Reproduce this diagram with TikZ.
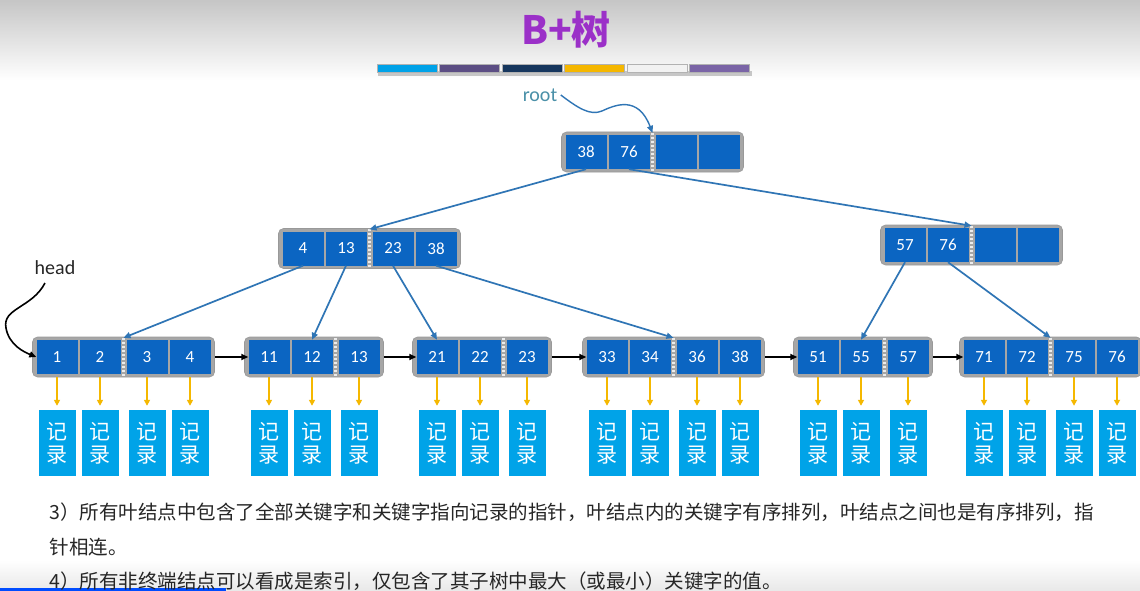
\documentclass[tikz,border=0pt]{standalone}
\usepackage{fontspec}
\setmainfont{Carlito}
\newfontfamily\cjk{Noto Sans CJK SC}
\usepackage{tikz}
\usetikzlibrary{arrows.meta,positioning,calc}

\begin{document}
\begin{tikzpicture}[
    x=1pt, y=-1pt,
    nodeframe/.style={
        draw=gray!80, fill=framegray, rounded corners=5pt, line width=0.6pt,
        minimum height=40pt, inner sep=0pt
    },
    keycell/.style={
        fill=cellblue, minimum width=41pt, minimum height=34pt, inner sep=0pt,
        text=white, font=\fontsize{17}{20}\selectfont
    },
    dotsep/.style={minimum width=0pt, minimum height=38pt, inner sep=0pt},
    dotline/.style={white!85!gray, line width=2.4pt, dash pattern=on 2pt off 2pt},
    recbox/.style={
        fill=recblue, minimum width=37pt, minimum height=66pt, inner sep=0pt,
        text=white, align=center, font=\cjk\fontsize{21}{23}\selectfont
    },
    barseg/.style={draw=gray!60, line width=0.5pt, minimum width=60pt, minimum height=8pt, inner sep=0pt},
    treearr/.style={-{Triangle[length=7pt,width=6pt]}, line width=1.7pt, treeblue},
    linkarr/.style={-{Triangle[length=7pt,width=6pt]}, line width=1.6pt, black},
    recarr/.style={-{Triangle[length=6pt,width=6pt]}, line width=1.6pt, recyellow,
        shorten <=3pt, shorten >=4pt}
]

% Colours
\definecolor{cellblue}{HTML}{0B65C2}
\definecolor{recblue}{HTML}{00A3E8}
\definecolor{treeblue}{HTML}{2F75B5}
\definecolor{recyellow}{HTML}{F5B800}
\definecolor{framegray}{HTML}{A6A6A6}
\definecolor{titlepurple}{HTML}{9B30C8}
\definecolor{rootteal}{HTML}{4A90A8}
\definecolor{textgray}{HTML}{262626}
\definecolor{barA}{HTML}{00A2E8}
\definecolor{barB}{HTML}{5C4E84}
\definecolor{barC}{HTML}{17375E}
\definecolor{barD}{HTML}{F5B700}
\definecolor{barE}{HTML}{F2F2F2}
\definecolor{barF}{HTML}{7A64A6}

\useasboundingbox (0,0) rectangle (1140,591);

% Slide background
\fill[white] (0,0) rectangle (1140,591);
\shade[top color=gray!45, bottom color=white] (0,0) rectangle (1140,80);
\shade[top color=white, bottom color=gray!18] (0,560) rectangle (1140,591);
\fill[blue!70!cyan] (0,588) rectangle (226,591);

% Title and colour bar
\node[font=\cjk\bfseries\fontsize{39}{41}\selectfont, text=titlepurple] (title) at (566,30) {B+树};
\fill[gray!45] (378,71) rectangle (752,76);
\foreach \c [count=\i] in {barA,barB,barC,barD,barE,barF}
    \node[barseg, fill=\c] (seg\i) at ({407+62.5*(\i-1)},68) {};

% Root node
\node[nodeframe, minimum width=182pt] (rootf) at (652.5,152) {};
\node[keycell] (r1) at (586,152) {38};
\node[keycell] (r2) at (629,152) {76};
\node[dotsep] (rsep) at (652.5,152) {};
\node[keycell] (r3) at (676,152) {};
\node[keycell] (r4) at (719,152) {};

% Second level
\node[nodeframe, minimum width=182pt] (af) at (369.5,248.5) {};
\node[keycell] (a1) at (303,248.5) {4};
\node[keycell] (a2) at (346,248.5) {13};
\node[dotsep] (asep) at (369.5,248.5) {};
\node[keycell] (a3) at (393,248.5) {23};
\node[keycell] (a4) at (436,248.5) {38};

\node[nodeframe, minimum width=182pt] (bf) at (971.5,245) {};
\node[keycell] (b1) at (905,245) {57};
\node[keycell] (b2) at (948,245) {76};
\node[dotsep] (bsep) at (971.5,245) {};
\node[keycell] (b3) at (995,245) {};
\node[keycell] (b4) at (1038,245) {};

% Leaf level
\node[nodeframe, minimum width=182pt] (f1) at (123.5,357) {};
\node[keycell] (k1) at (57,357) {1};
\node[keycell] (k2) at (100,357) {2};
\node[dotsep] (s1) at (123.5,357) {};
\node[keycell] (k3) at (147,357) {3};
\node[keycell] (k4) at (190,357) {4};

\node[nodeframe, minimum width=139pt] (f2) at (314,357) {};
\node[keycell] (k11) at (269,357) {11};
\node[keycell] (k12) at (312,357) {12};
\node[dotsep] (s2) at (335.5,357) {};
\node[keycell] (k13) at (359,357) {13};

\node[nodeframe, minimum width=139pt] (f3) at (482,357) {};
\node[keycell] (k21) at (437,357) {21};
\node[keycell] (k22) at (480,357) {22};
\node[dotsep] (s3) at (503.5,357) {};
\node[keycell] (k23) at (527,357) {23};

\node[nodeframe, minimum width=182pt] (f4) at (673.5,357) {};
\node[keycell] (k33) at (607,357) {33};
\node[keycell] (k34) at (650,357) {34};
\node[dotsep] (s4) at (673.5,357) {};
\node[keycell] (k36) at (697,357) {36};
\node[keycell] (k38) at (740,357) {38};

\node[nodeframe, minimum width=139pt] (f5) at (863,357) {};
\node[keycell] (k51) at (818,357) {51};
\node[keycell] (k55) at (861,357) {55};
\node[dotsep] (s5) at (884.5,357) {};
\node[keycell] (k57) at (908,357) {57};

\node[nodeframe, minimum width=182pt] (f6) at (1050.5,357) {};
\node[keycell] (k71) at (984,357) {71};
\node[keycell] (k72) at (1027,357) {72};
\node[dotsep] (s6) at (1050.5,357) {};
\node[keycell] (k75) at (1074,357) {75};
\node[keycell] (k76) at (1117,357) {76};

% Dotted separators inside the nodes
\foreach \s in {rsep,asep,bsep,s1,s2,s3,s4,s5,s6}
    \draw[dotline] (\s.north) -- (\s.south);

% Records under every key
\coordinate (recrow) at (0,443);
\foreach \k in {1,2,3,4,11,12,13,21,22,23,33,34,36,38,51,55,57,71,72,75,76} {
    \node[recbox] (rec\k) at (k\k |- recrow) {记\\录};
    \draw[recarr] (k\k.south) -- (rec\k.north);
}

% Tree pointers
\draw[treearr] (r1.south) -- (asep.north);
\draw[treearr] (r2.south) -- (bsep.north);
\draw[treearr] (a1.south) -- (s1.north);
\draw[treearr] (a2.south) -- (k12.north);
\draw[treearr] (a3.south) -- (k21.north);
\draw[treearr] (a4.south) -- (s4.north);
\draw[treearr] (b1.south) -- (k55.north);
\draw[treearr] (b2.south) -- (s6.north);

% Leaf chain
\draw[linkarr] (f1.east) -- (k11.west);
\draw[linkarr] (f2.east) -- (k21.west);
\draw[linkarr] (f3.east) -- (k33.west);
\draw[linkarr] (f4.east) -- (k51.west);
\draw[linkarr] (f5.east) -- (k71.west);

% root and head labels
\node[font=\fontsize{20}{22}\selectfont, text=rootteal] (rootlbl) at (540,95) {root};
\draw[treearr, line width=1.4pt] (rootlbl.east) .. controls (578,108) and (590,116) .. (602,111)
    .. controls (615,105) and (638,95) .. (rsep.north);

\node[font=\fontsize{20}{22}\selectfont, text=textgray] (headlbl) at (55,268) {head};
\coordinate (headtail) at (45,283);
\draw[linkarr] (headtail) .. controls (32,308) and (2,308) .. (6,328)
    .. controls (9,345) and (24,352) .. (k1.west);

% Notes below
\node[anchor=base west, font=\cjk\fontsize{19.5}{22}\selectfont, text=textgray] (note3a) at (46,519)
    {3）所有叶结点中包含了全部关键字和关键字指向记录的指针，叶结点内的关键字有序排列，叶结点之间也是有序排列，指};
\node[anchor=base west, font=\cjk\fontsize{19.5}{22}\selectfont, text=textgray] (note3b) at (46,554)
    {针相连。};
\node[anchor=base west, font=\cjk\fontsize{19.5}{22}\selectfont, text=textgray] (note4) at (46,588)
    {4）所有非终端结点可以看成是索引，仅包含了其子树中最大（或最小）关键字的值。};

\end{tikzpicture}
\end{document}
